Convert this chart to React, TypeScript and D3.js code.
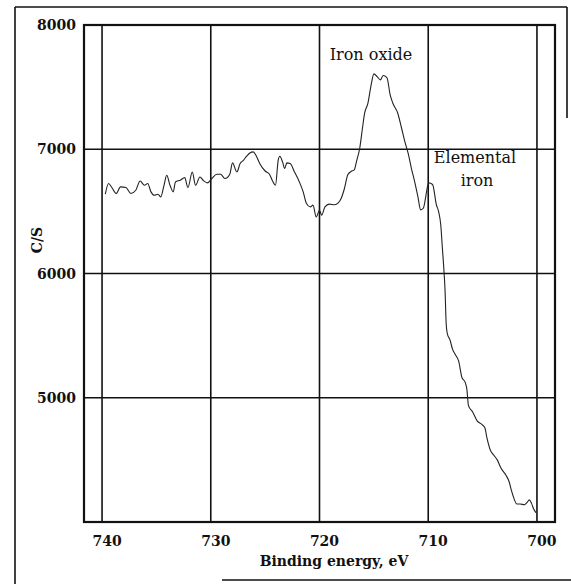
import React, {useEffect, useRef} from 'react';
import * as d3 from 'd3';

// binding energy (eV) and counts per second
const bindingEnergy = [
    739.7, 739.4, 739.1, 738.7, 738.3, 737.8, 737.35, 736.9, 736.5, 736.1,
    735.8, 735.5, 735.2, 734.85, 734.6, 734.3, 734.05, 733.75, 733.45, 733.25,
    732.8, 732.4, 732.1, 731.7, 731.4, 731.0, 730.65, 730.3, 729.9, 729.45,
    729.1, 728.7, 728.25, 728.0, 727.6, 727.3, 727.0, 726.7, 726.4, 726.1,
    725.8, 725.5, 725.0, 724.6, 724.35, 724.05, 723.8, 723.65, 723.4, 723.2,
    723.0, 722.7, 722.3, 721.85, 721.5, 721.2, 720.85, 720.6, 720.3, 720.0,
    719.8, 719.5, 719.1, 718.6, 718.3, 718.0, 717.7, 717.4, 717.1, 716.8,
    716.6, 716.3, 716.05, 715.85, 715.55, 715.25, 715.0, 714.7, 714.4, 714.15,
    713.8, 713.5, 713.25, 712.8, 712.45, 712.15, 711.85, 711.55, 711.25, 710.95,
    710.7, 710.45, 710.25, 710.1, 709.95, 709.6, 709.25, 709.05, 708.85, 708.7,
    708.55, 708.45, 708.35, 708.25, 708.0, 707.75, 707.5, 707.2, 706.9, 706.6,
    706.45, 706.3, 705.9, 705.5, 705.1, 704.8, 704.6, 704.3, 704.0, 703.65,
    703.3, 702.85, 702.55, 702.35, 702.1, 701.85, 701.55, 701.15, 700.9, 700.7,
    700.5, 700.3, 700.1
]

const counts = [
    6638, 6724, 6692, 6644, 6697, 6692, 6644, 6670, 6745, 6710,
    6724, 6657, 6630, 6638, 6616, 6710, 6791, 6710, 6657, 6737,
    6751, 6772, 6692, 6817, 6710, 6777, 6745, 6729, 6764, 6799,
    6799, 6764, 6799, 6890, 6817, 6885, 6911, 6944, 6970, 6979,
    6944, 6885, 6825, 6799, 6751, 6710, 6911, 6944, 6898, 6845,
    6890, 6885, 6817, 6737, 6657, 6563, 6536, 6550, 6455, 6509,
    6469, 6536, 6558, 6553, 6566, 6606, 6686, 6794, 6821, 6834,
    6901, 7008, 7169, 7290, 7370, 7518, 7607, 7585, 7558, 7593,
    7577, 7438, 7370, 7290, 7169, 7062, 6968, 6847, 6740, 6619,
    6512, 6525, 6606, 6686, 6729, 6716, 6553, 6500, 6394, 6206,
    6018, 5860, 5597, 5519, 5466, 5387, 5347, 5294, 5163, 5124,
    5071, 4937, 4883, 4814, 4787, 4760, 4678, 4582, 4541, 4500,
    4432, 4377, 4322, 4254, 4186, 4145, 4145, 4139, 4158, 4178,
    4150, 4104, 4076
]

const xTicks = [740, 730, 720, 710, 700]
const yTicks = [5000, 6000, 7000, 8000]

const width = 571
const height = 584

let dimensions = {
    left: 84,
    right: 555,
    top: 25,
    bottom: 522
}

const serif = '"DejaVu Serif", serif'

const Spectrum = () => {

    const svgRef = useRef(null)

    useEffect(() => {

        const svg = d3.select(svgRef.current)
        svg.selectAll('*').remove()

        const xScale = d3.scaleLinear()
            .domain([741.66, 698.34])
            .range([dimensions.left, dimensions.right])

        const yScale = d3.scaleLinear()
            .domain([4000, 8000])
            .range([dimensions.bottom, dimensions.top])

        // outer frame of the scanned figure
        const frame = svg.append('g')
            .attr('stroke', '#111')
            .attr('stroke-width', 1.6)
        frame.append('line').attr('x1', 15).attr('x2', 15).attr('y1', 7).attr('y2', height)
        frame.append('line').attr('x1', 15).attr('x2', 567).attr('y1', 7).attr('y2', 7)
        frame.append('line').attr('x1', 567).attr('x2', 567).attr('y1', 7).attr('y2', 118)
        frame.append('line').attr('x1', 222).attr('x2', width).attr('y1', 580).attr('y2', 580)

        const bounds = svg.append('g')

        // grid
        bounds.selectAll('.vgrid')
            .data(xTicks)
            .join('line')
            .attr('class', 'vgrid')
            .attr('x1', d => xScale(d))
            .attr('x2', d => xScale(d))
            .attr('y1', dimensions.top)
            .attr('y2', dimensions.bottom)
            .attr('stroke', '#111')
            .attr('stroke-width', 1.6)

        bounds.selectAll('.hgrid')
            .data(yTicks)
            .join('line')
            .attr('class', 'hgrid')
            .attr('x1', dimensions.left)
            .attr('x2', dimensions.right)
            .attr('y1', d => yScale(d))
            .attr('y2', d => yScale(d))
            .attr('stroke', '#111')
            .attr('stroke-width', 1.6)

        bounds.append('rect')
            .attr('x', dimensions.left)
            .attr('y', dimensions.top)
            .attr('width', dimensions.right - dimensions.left)
            .attr('height', dimensions.bottom - dimensions.top)
            .attr('fill', 'none')
            .attr('stroke', '#111')
            .attr('stroke-width', 2.2)

        // spectrum
        const points = bindingEnergy.map((e, i) => [e, counts[i]])

        const lineGenerator = d3.line()
            .x(d => xScale(d[0]))
            .y(d => yScale(d[1]))
            .curve(d3.curveMonotoneX)

        bounds.append('path')
            .datum(points)
            .attr('d', lineGenerator)
            .attr('fill', 'none')
            .attr('stroke', '#222')
            .attr('stroke-width', 1.1)

        // axes labels
        bounds.selectAll('.ylabel')
            .data(yTicks)
            .join('text')
            .attr('class', 'ylabel')
            .attr('x', dimensions.left - 8)
            .attr('y', d => yScale(d) + 5)
            .attr('text-anchor', 'end')
            .style('font-family', serif)
            .style('font-weight', 'bold')
            .style('font-size', '14px')
            .attr('fill', '#111')
            .text(d => d)

        bounds.selectAll('.xlabel')
            .data(xTicks)
            .join('text')
            .attr('class', 'xlabel')
            .attr('x', d => xScale(d) + 5)
            .attr('y', dimensions.bottom + 24)
            .attr('text-anchor', 'middle')
            .style('font-family', serif)
            .style('font-weight', 'bold')
            .style('font-size', '14px')
            .attr('fill', '#111')
            .text(d => d)

        svg.append('text')
            .attr('x', 334)
            .attr('y', 566)
            .attr('text-anchor', 'middle')
            .style('font-family', serif)
            .style('font-weight', 'bold')
            .style('font-size', '14px')
            .attr('fill', '#111')
            .text('Binding energy, eV')

        svg.append('text')
            .attr('transform', 'translate(42, 240) rotate(-90)')
            .attr('text-anchor', 'middle')
            .style('font-family', serif)
            .style('font-weight', 'bold')
            .style('font-size', '14px')
            .attr('fill', '#111')
            .text('C/S')

        // peak annotations
        const notes = svg.append('g')
            .style('font-family', serif)
            .style('font-size', '16px')
            .attr('fill', '#111')
            .attr('text-anchor', 'middle')
        notes.append('text').attr('x', 371).attr('y', 60).text('Iron oxide')
        notes.append('text').attr('x', 475).attr('y', 163).text('Elemental')
        notes.append('text').attr('x', 477).attr('y', 186).text('iron')

    }, [])

    return (
        <svg ref={svgRef} width={width} height={height}
             style={{position: 'absolute', left: 0, top: 0, background: '#fff'}}/>
    )
}

export default function App() {
    return <Spectrum/>
}
